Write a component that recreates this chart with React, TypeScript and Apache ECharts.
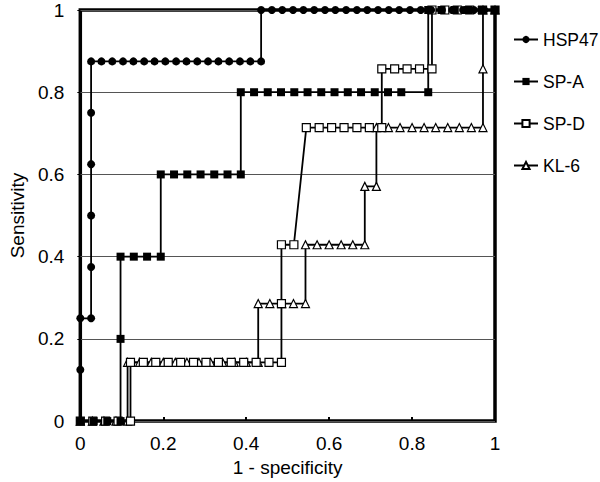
import React, { useEffect, useRef } from "react";
import * as echarts from "echarts";

const seriesNames = ["HSP47", "SP-A", "SP-D", "KL-6"];
const xTicks = [0, 0.2, 0.4, 0.6, 0.8, 1];

const hsp47: number[][] = [
  [0, 0], [0, 0.125], [0, 0.25],
  [0.026, 0.25], [0.026, 0.375], [0.026, 0.5], [0.026, 0.625], [0.026, 0.75], [0.026, 0.875],
  [0.051, 0.875], [0.077, 0.875], [0.103, 0.875], [0.128, 0.875], [0.154, 0.875], [0.179, 0.875],
  [0.205, 0.875], [0.231, 0.875], [0.256, 0.875], [0.282, 0.875], [0.308, 0.875], [0.333, 0.875],
  [0.359, 0.875], [0.385, 0.875], [0.41, 0.875], [0.436, 0.875],
  [0.436, 1], [0.462, 1], [0.487, 1], [0.513, 1], [0.538, 1], [0.564, 1], [0.59, 1], [0.615, 1],
  [0.641, 1], [0.667, 1], [0.692, 1], [0.718, 1], [0.744, 1], [0.769, 1], [0.795, 1], [0.821, 1],
  [0.846, 1], [0.872, 1], [0.897, 1], [0.923, 1], [0.949, 1], [0.974, 1], [1, 1],
];

const spA: number[][] = [
  [0, 0], [0.032, 0], [0.065, 0], [0.097, 0],
  [0.097, 0.2], [0.097, 0.4],
  [0.129, 0.4], [0.161, 0.4], [0.194, 0.4],
  [0.194, 0.6], [0.226, 0.6], [0.258, 0.6], [0.29, 0.6], [0.323, 0.6], [0.355, 0.6], [0.387, 0.6],
  [0.387, 0.8], [0.419, 0.8], [0.452, 0.8], [0.484, 0.8], [0.516, 0.8], [0.548, 0.8], [0.581, 0.8],
  [0.613, 0.8], [0.645, 0.8], [0.677, 0.8], [0.71, 0.8], [0.742, 0.8], [0.774, 0.8], [0.839, 0.8],
  [0.839, 1], [0.871, 1], [0.903, 1], [0.935, 1], [0.968, 1], [1, 1],
];

const spD: number[][] = [
  [0, 0], [0.03, 0], [0.061, 0], [0.091, 0], [0.121, 0],
  [0.121, 0.143], [0.152, 0.143], [0.182, 0.143], [0.212, 0.143], [0.242, 0.143], [0.273, 0.143],
  [0.303, 0.143], [0.333, 0.143], [0.364, 0.143], [0.394, 0.143], [0.424, 0.143], [0.455, 0.143],
  [0.485, 0.143], [0.485, 0.286], [0.485, 0.429], [0.515, 0.429],
  [0.545, 0.714], [0.576, 0.714], [0.606, 0.714], [0.636, 0.714], [0.667, 0.714], [0.697, 0.714],
  [0.727, 0.714], [0.727, 0.857], [0.758, 0.857], [0.788, 0.857], [0.818, 0.857], [0.848, 0.857],
  [0.848, 1], [0.879, 1], [0.909, 1], [0.939, 1], [0.97, 1], [1, 1],
];

const kl6: number[][] = [
  [0, 0], [0.029, 0], [0.057, 0], [0.086, 0], [0.114, 0],
  [0.114, 0.143], [0.143, 0.143], [0.171, 0.143], [0.2, 0.143], [0.229, 0.143], [0.257, 0.143],
  [0.286, 0.143], [0.314, 0.143], [0.343, 0.143], [0.371, 0.143], [0.4, 0.143], [0.429, 0.143],
  [0.429, 0.286], [0.457, 0.286], [0.486, 0.286], [0.514, 0.286], [0.543, 0.286],
  [0.543, 0.429], [0.571, 0.429], [0.6, 0.429], [0.629, 0.429], [0.657, 0.429], [0.686, 0.429],
  [0.686, 0.571], [0.714, 0.571],
  [0.714, 0.714], [0.743, 0.714], [0.771, 0.714], [0.8, 0.714], [0.829, 0.714], [0.857, 0.714],
  [0.886, 0.714], [0.914, 0.714], [0.943, 0.714], [0.971, 0.714],
  [0.971, 0.857], [0.971, 1], [1, 1],
];

const FONT = "'Liberation Sans', Arial, Helvetica, sans-serif";

export default function App() {
  const ref = useRef<HTMLDivElement>(null);
  useEffect(() => {
    if (!ref.current) return;
    const chart = echarts.init(ref.current, undefined, { renderer: "svg" });
    const mk = (name: string, data: number[][], symbol: string, size: number, open: boolean) => ({
      name,
      type: "line",
      data,
      symbol,
      symbolSize: size,
      showSymbol: true,
      lineStyle: { color: "#000", width: 1.8 },
      itemStyle: open
        ? { color: "#fff", borderColor: "#000", borderWidth: 1.2 }
        : { color: "#000", borderColor: "#000", borderWidth: 0 },
      emphasis: { disabled: true },
    });
    chart.setOption({
      animation: false,
      backgroundColor: "#fff",
      textStyle: { fontFamily: FONT },
      grid: {
        left: 77.5,
        right: 105,
        top: 10,
        bottom: 60,
        show: true,
        borderColor: "#000",
        borderWidth: 3.5,
        backgroundColor: "transparent",
      },
      legend: {
        orient: "vertical",
        left: 508,
        top: 24,
        itemWidth: 24,
        itemHeight: 9,
        itemGap: 21,
        data: seriesNames,
        textStyle: { fontSize: 17.5, color: "#000", fontFamily: FONT, lineHeight: 21 },
      },
      xAxis: {
        type: "value",
        min: 0,
        max: 1,
        interval: 0.2,
        name: "1 - specificity",
        nameLocation: "middle",
        nameGap: 31,
        nameTextStyle: { fontSize: 19, color: "#000", fontFamily: FONT },
        axisLine: { show: false },
        axisTick: { show: true, inside: true, length: 4, lineStyle: { color: "#000", width: 2 } },
        axisLabel: {
          fontSize: 19,
          color: "#000",
          margin: 13,
          fontFamily: FONT,
          formatter: (v: number) => (xTicks.includes(Math.round(v * 10) / 10) ? String(Math.round(v * 10) / 10) : ""),
        },
        splitLine: { show: false },
      },
      yAxis: {
        type: "value",
        min: 0,
        max: 1,
        interval: 0.2,
        name: "Sensitivity",
        nameLocation: "middle",
        nameGap: 51,
        nameTextStyle: { fontSize: 19, color: "#000", fontFamily: FONT },
        axisLine: { show: false },
        axisTick: { show: true, inside: false, length: 3, lineStyle: { color: "#000", width: 1 } },
        axisLabel: { fontSize: 19, color: "#000", margin: 16, fontFamily: FONT },
        splitLine: { show: true, lineStyle: { color: "#555", width: 1 } },
      },
      series: [
        mk("KL-6", kl6, "triangle", 8, true),
        mk("SP-D", spD, "rect", 8, true),
        mk("SP-A", spA, "rect", 8, false),
        mk("HSP47", hsp47, "circle", 8, false),
      ],
    });
    return () => chart.dispose();
  }, []);
  return <div ref={ref} style={{ position: "fixed", left: 0, top: 0, width: 600, height: 482 }} />;
}
